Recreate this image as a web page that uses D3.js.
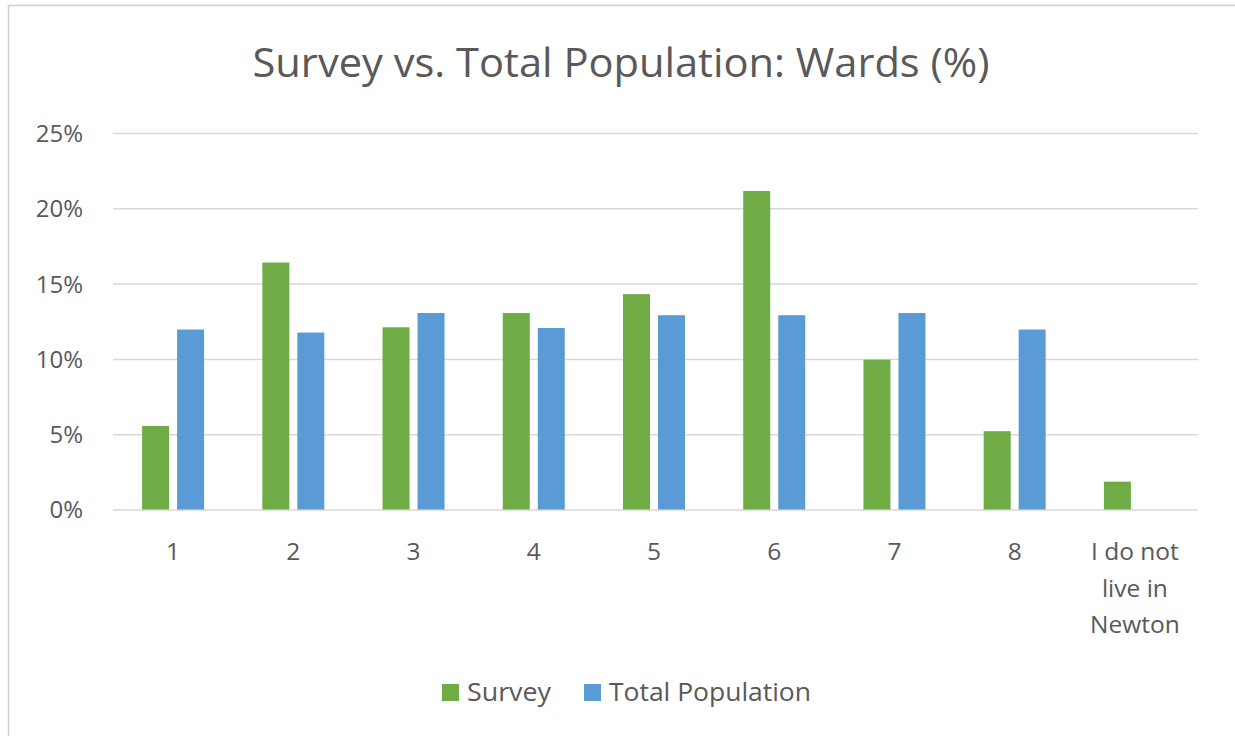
<!DOCTYPE html>
<html>
<head>
<meta charset="utf-8">
<script src="https://cdn.jsdelivr.net/npm/d3@7"></script>
<style>
  html, body { margin: 0; padding: 0; background: #fff; }
  svg { display: block; }
  text { font-family: "Open Sans", "Lato", sans-serif; fill: #595959; }
</style>
</head>
<body>
<svg id="chart" width="1235" height="736"></svg>
<script>
// Ward categories along the x axis (the last one wraps onto three lines)
const categories = ["1", "2", "3", "4", "5", "6", "7", "8", "I do not live in Newton"];
const categoryLines = [["1"], ["2"], ["3"], ["4"], ["5"], ["6"], ["7"], ["8"], ["I do not", "live in", "Newton"]];

// Share of respondents / residents per ward, in percent
const surveyValues = [5.55, 16.4, 12.1, 13.05, 14.3, 21.15, 9.95, 5.2, 1.85];
const populationValues = [11.95, 11.75, 13.05, 12.05, 12.9, 12.9, 13.05, 11.95, null];

const seriesNames = ["Survey", "Total Population"];
const seriesColors = ["#6fac46", "#5b9bd5"];
const yTicks = [0, 5, 10, 15, 20, 25];

const svg = d3.select("#chart");
const W = 1235, H = 736;

// Chart frame
svg.append("line").attr("x1", 8.5).attr("x2", 8.5).attr("y1", 5).attr("y2", H)
  .attr("stroke", "#d0d0d0").attr("stroke-width", 1.5);
svg.append("line").attr("x1", 8).attr("x2", W).attr("y1", 5.5).attr("y2", 5.5)
  .attr("stroke", "#d0d0d0").attr("stroke-width", 1.5);

const plot = { left: 113, right: 1195, top: 133, bottom: 509.5 };

const x = d3.scaleBand().domain(categories).range([plot.left, plot.right]).padding(0);
const xSub = d3.scaleBand().domain(seriesNames).range([-31, 31]).paddingInner(8 / 35).paddingOuter(0);
const y = d3.scaleLinear().domain([0, 25]).range([plot.bottom, plot.top]);

// Title
svg.append("text")
  .attr("x", 621).attr("y", 77)
  .attr("text-anchor", "middle")
  .attr("font-size", 41)
  .attr("textLength", 737).attr("lengthAdjust", "spacingAndGlyphs")
  .text("Survey vs. Total Population: Wards (%)");

// Horizontal gridlines and percentage labels
const yAxis = d3.axisLeft(y).tickValues(yTicks).tickSize(-(plot.right - plot.left + 3)).tickFormat(d => d + "%").tickPadding(30);
const gy = svg.append("g").attr("transform", `translate(${plot.left},0)`).call(yAxis);
gy.select(".domain").remove();
gy.selectAll(".tick line").attr("stroke", "#d9d9d9").attr("stroke-width", 1.5);
gy.selectAll(".tick text").attr("font-size", 24).attr("fill", "#595959").attr("dy", "0.35em")
  .attr("font-family", "'Open Sans', sans-serif");

// Bars
const groups = svg.append("g").selectAll("g").data(categories).join("g")
  .attr("transform", d => `translate(${x(d) + x.bandwidth() / 2},0)`);

const seriesValues = [surveyValues, populationValues];
groups.each(function (cat, i) {
  const g = d3.select(this);
  seriesNames.forEach((s, k) => {
    const v = seriesValues[k][i];
    if (v == null) return;
    g.append("rect")
      .attr("x", xSub(s))
      .attr("width", xSub.bandwidth())
      .attr("y", y(v))
      .attr("height", y(0) - y(v))
      .attr("fill", seriesColors[k]);
  });
});

// Category labels
groups.each(function (cat, i) {
  const t = d3.select(this).append("text")
    .attr("text-anchor", "middle")
    .attr("font-size", 24.5);
  categoryLines[i].forEach((line, j) => {
    t.append("tspan").attr("x", 0).attr("y", 560 + j * 36.5).text(line);
  });
});

// Legend
const legend = svg.append("g");
const legendItems = [
  { name: seriesNames[0], color: seriesColors[0], x: 442, w: 84 },
  { name: seriesNames[1], color: seriesColors[1], x: 584, w: 202 }
];
legendItems.forEach(it => {
  legend.append("rect").attr("x", it.x).attr("y", 684).attr("width", 17).attr("height", 17).attr("fill", it.color);
  legend.append("text").attr("x", it.x + 25).attr("y", 701).attr("font-size", 26)
    .attr("textLength", it.w).attr("lengthAdjust", "spacingAndGlyphs").text(it.name);
});
</script>
</body>
</html>
